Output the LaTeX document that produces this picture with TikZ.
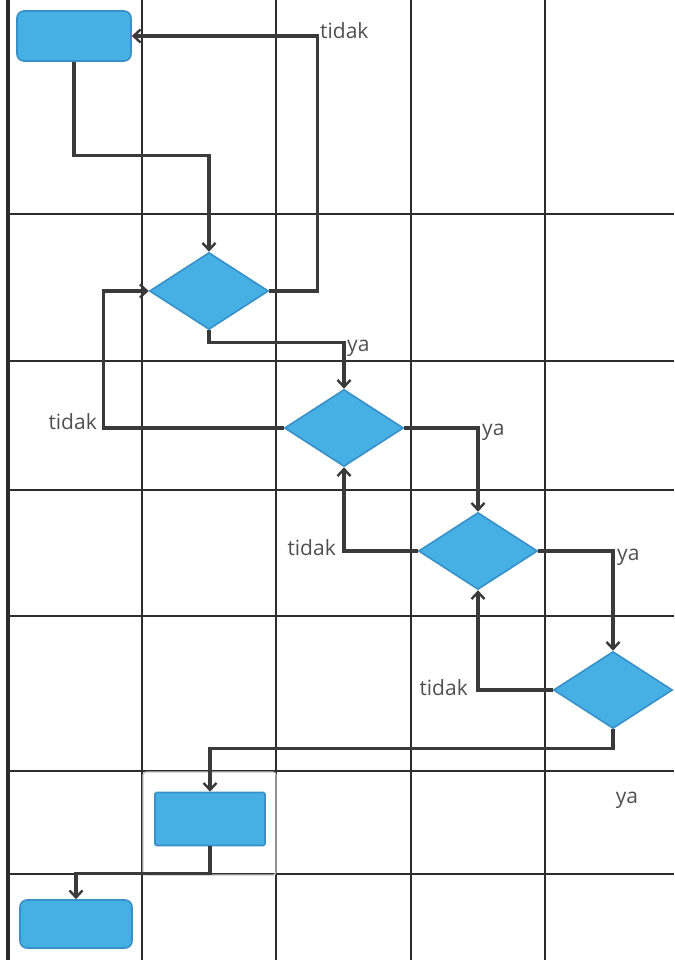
\documentclass[tikz,border=0pt]{standalone}
\usepackage{fontspec}
\setmainfont{Open Sans}
\usetikzlibrary{shapes.geometric, arrows.meta}

\definecolor{boxblue}{RGB}{70,175,228}
\definecolor{boxedge}{RGB}{55,145,200}
\definecolor{lineclr}{RGB}{58,58,58}
\definecolor{gridclr}{RGB}{45,45,45}
\definecolor{txtclr}{RGB}{80,80,80}

\tikzset{
  terminal/.style={draw=boxedge, fill=boxblue, line width=1.6, rounded corners=7,
    minimum width=114, minimum height=50, inner sep=0},
  process/.style={draw=boxedge, fill=boxblue, line width=1.6, rounded corners=1.5,
    minimum width=110, minimum height=53, inner sep=0},
  decision/.style={diamond, draw=boxedge, fill=boxblue, line width=1.6,
    minimum width=119, minimum height=77, inner sep=0},
  flow/.style={draw=lineclr, line width=3.2,
    -{Straight Barb[length=7, width=13, line width=2.4]}},
  lbl/.style={text=txtclr, font=\fontsize{21}{24}\selectfont, inner sep=1}
}

\begin{document}
\begin{tikzpicture}[x=1pt, y=-1pt]
  \useasboundingbox (0,0) rectangle (674,960);

  % Swimlane grid
  \foreach \x in {142,276,411,545} {
    \draw[gridclr, line width=2] (\x,0) -- (\x,960);
  }
  \foreach \y in {214,361,490,616,771,874} {
    \draw[gridclr, line width=2] (8,\y) -- (674,\y);
  }
  \draw[gridclr, line width=3.5] (8,0) -- (8,960);
  \draw[gray!45, line width=1.2, rounded corners=3] (143,772) rectangle (276,875);

  % Shapes
  \node[terminal] (start) at (74,36) {};
  \node[decision] (cek1) at (209,291) {};
  \node[decision] (cek2) at (344,428) {};
  \node[decision] (cek3) at (478,551) {};
  \node[decision] (cek4) at (613,690) {};
  \node[process] (proses) at (210,819) {};
  \node[terminal, minimum width=112, minimum height=48] (selesai) at (76,924) {};

  % Connectors
  \draw[flow] (start.south) -- ++(0,94) -| (cek1.north);
  \draw[flow] (cek1.east) -- ++(48,0) |- (start.east);
  \draw[flow] (cek1.south) -- ++(0,12) -| (cek2.north);
  \draw[flow] (cek2.west) -- ++(-180,0) |- (cek1.west);
  \draw[flow] (cek2.east) -| (cek3.north);
  \draw[flow] (cek3.west) -| (cek2.south);
  \draw[flow] (cek3.east) -| (cek4.north);
  \draw[flow] (cek4.west) -| (cek3.south);
  \draw[flow] (cek4.south) -- ++(0,19) -| (proses.north);
  \draw[flow] (proses.south) -- ++(0,27) -| (selesai.north);

  % Labels
  \node[lbl, anchor=west] (t1) at (319,31) {tidak};
  \node[lbl, anchor=west] (y1) at (346,348) {ya};
  \node[lbl, anchor=east] (t2) at (98,422) {tidak};
  \node[lbl, anchor=west] (y2) at (481,432) {ya};
  \node[lbl, anchor=east] (t3) at (337,548) {tidak};
  \node[lbl, anchor=west] (y3) at (616,557) {ya};
  \node[lbl, anchor=east] (t4) at (469,688) {tidak};
  \node[lbl] (y4) at (627,800) {ya};
\end{tikzpicture}
\end{document}
